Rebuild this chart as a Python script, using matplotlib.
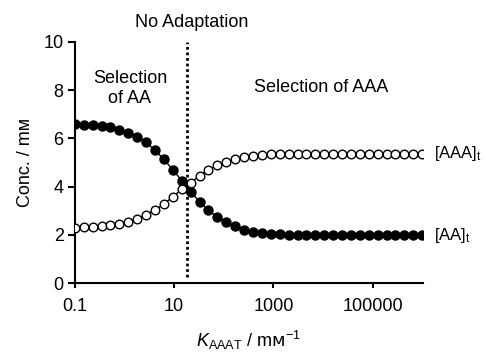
import matplotlib.pyplot as plt

plt.rcParams['font.family'] = ['Liberation Sans', 'DejaVu Sans']
plt.rcParams['mathtext.fontset'] = 'custom'
plt.rcParams['mathtext.rm'] = 'Liberation Sans'
plt.rcParams['mathtext.it'] = 'Liberation Sans:italic'
plt.rcParams['mathtext.sf'] = 'DejaVu Sans'

# K_AAAT grid (mM^-1)
k_aaat = [0.1, 0.1512, 0.2286, 0.3455, 0.5224, 0.7898, 1.194, 1.805, 2.729, 4.125,
          6.236, 9.428, 14.25, 21.54, 32.57, 49.24, 74.44, 112.5, 170.1, 257.2,
          388.8, 587.8, 888.6, 1343, 2031, 3071, 4642, 7017, 10608, 16037,
          24245, 36652, 55410, 83768, 126638, 191448, 289427, 437548, 661474, 1000000]

aa_t = [6.58, 6.57, 6.55, 6.52, 6.45, 6.36, 6.23, 6.06, 5.83, 5.51,
        5.13, 4.70, 4.25, 3.79, 3.38, 3.02, 2.74, 2.52, 2.35, 2.22,
        2.14, 2.09, 2.05, 2.02, 2.00, 1.99, 1.99, 1.98, 1.98, 1.98,
        1.98, 1.98, 1.98, 1.98, 1.98, 1.98, 1.98, 1.98, 1.98, 1.98]

aaa_t = [2.30, 2.31, 2.33, 2.36, 2.40, 2.47, 2.55, 2.66, 2.83, 3.03,
         3.28, 3.58, 3.89, 4.16, 4.45, 4.69, 4.88, 5.02, 5.13, 5.22,
         5.28, 5.32, 5.34, 5.35, 5.36, 5.36, 5.37, 5.37, 5.37, 5.37,
         5.37, 5.37, 5.37, 5.37, 5.37, 5.37, 5.37, 5.37, 5.37, 5.37]

k_no_adapt = 18.6
fs = 13

fig = plt.figure(figsize=(4.86, 3.54), dpi=100)
ax = fig.add_axes([0.154, 0.200, 0.716, 0.682])

ax.plot(k_aaat, aa_t, color='black', lw=1, marker='o', ms=6.5,
        mfc='black', mec='black', zorder=3)
ax.plot(k_aaat, aaa_t, color='black', lw=1, marker='o', ms=6.2,
        mfc='white', mec='black', mew=1.0, zorder=4)

ax.plot([k_no_adapt, k_no_adapt], [0.25, 10], color='black', lw=2,
        linestyle=(0, (1, 1)), zorder=2)

ax.set_xscale('log')
ax.set_xlim(0.1, 1.03e6)
ax.set_ylim(0, 10)
ax.set_xticks([0.1, 10, 1000, 100000])
ax.set_xticklabels(['0.1', '10', '1000', '100000'])
ax.xaxis.set_minor_locator(plt.NullLocator())
ax.set_yticks([0, 2, 4, 6, 8, 10])

for s in ['top', 'right']:
    ax.spines[s].set_visible(False)
for s in ['left', 'bottom']:
    ax.spines[s].set_linewidth(1.5)
ax.tick_params(axis='y', length=5, width=1.5, labelsize=fs, pad=3)
ax.tick_params(axis='x', length=3.5, width=1.5, labelsize=fs, pad=7)

ax.set_ylabel('Conc. / mᴍ', fontsize=fs, labelpad=7)
ax.set_xlabel(r'$\mathit{K}_{\mathrm{AAAT}}$ / m$\mathsf{ᴍ}^{-1}$', fontsize=fs, labelpad=10)

ax.text(1.29, 8.05, 'Selection\nof AA', ha='center', va='center', fontsize=fs,
        linespacing=1.25)
ax.text(9330, 8.12, 'Selection of AAA', ha='center', va='center', fontsize=fs)
ax.text(23, 10.8, 'No Adaptation', ha='center', va='center', fontsize=fs,
        clip_on=False)

ax.annotate(r'[AAA]$_\mathrm{t}$', (k_aaat[-1], aaa_t[-1]), xytext=(8.5, 0),
            textcoords='offset points', ha='left', va='center', fontsize=12,
            annotation_clip=False)
ax.annotate(r'[AA]$_\mathrm{t}$', (k_aaat[-1], aa_t[-1]), xytext=(8.5, 0),
            textcoords='offset points', ha='left', va='center', fontsize=12,
            annotation_clip=False)

fig.savefig('out.png', dpi=100)
